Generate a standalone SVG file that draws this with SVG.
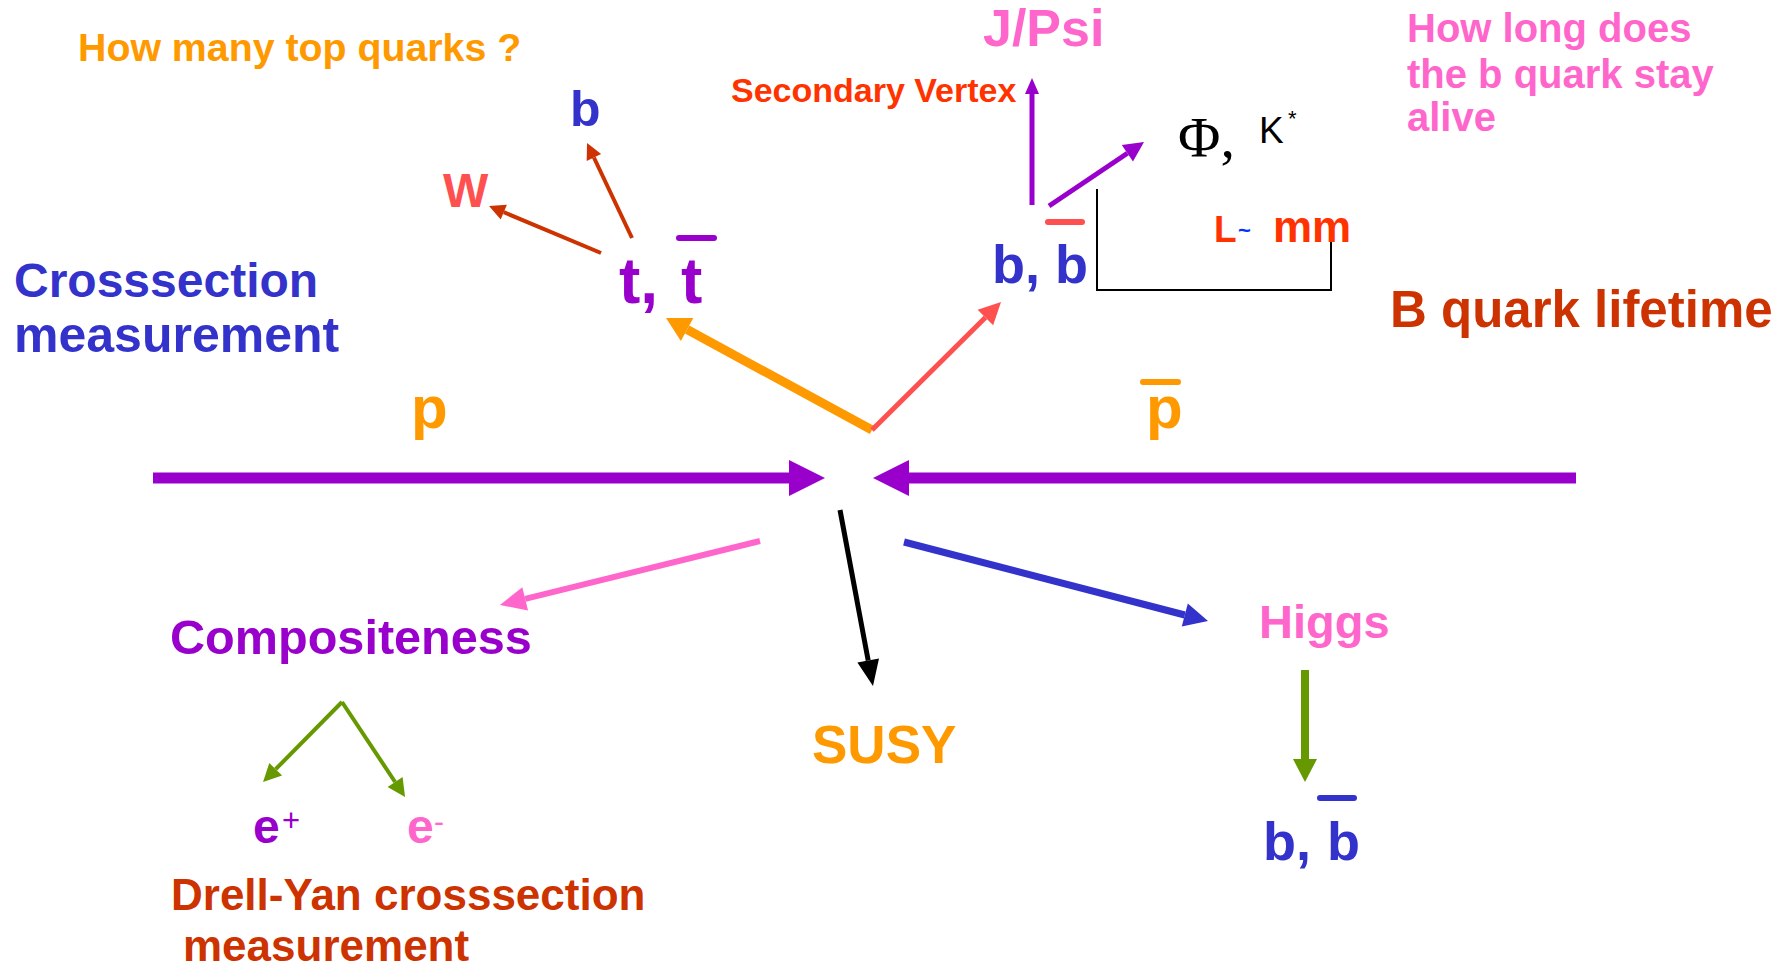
<svg xmlns="http://www.w3.org/2000/svg" width="1789" height="970" viewBox="0 0 1789 970">
<style>
text{font-family:"Liberation Sans",Arial,sans-serif;font-weight:bold}
.serif{font-family:"Liberation Serif","Times New Roman",serif;font-weight:normal}
.reg{font-weight:normal}
.or{fill:#FF9900}.pu{fill:#9900CC}.bl{fill:#3333CC}.pk{fill:#FF66CC}.rb{fill:#CC3300}.sa{fill:#FF5050}.ro{fill:#FF3300}
.bar{stroke-linecap:round;stroke-width:6}
#connectors line{fill:none}
</style>
<defs>
<marker id="mPurpleBig" markerUnits="userSpaceOnUse" markerWidth="36" markerHeight="36" viewBox="0 -18 36 36" refX="0" refY="0" orient="auto" overflow="visible"><path d="M0,-18L36,0L0,18z" fill="#9900CC"/></marker>
<marker id="mRB" markerUnits="userSpaceOnUse" markerWidth="16" markerHeight="16" viewBox="0 -8 16 16" refX="0" refY="0" orient="auto" overflow="visible"><path d="M0,-8L16,0L0,8z" fill="#CC3300"/></marker>
<marker id="mOr" markerUnits="userSpaceOnUse" markerWidth="24" markerHeight="26" viewBox="0 -13 24 26" refX="0" refY="0" orient="auto" overflow="visible"><path d="M0,-13L24,0L0,13z" fill="#FF9900"/></marker>
<marker id="mSa" markerUnits="userSpaceOnUse" markerWidth="22" markerHeight="22" viewBox="0 -11 22 22" refX="0" refY="0" orient="auto" overflow="visible"><path d="M0,-11L22,0L0,11z" fill="#FF5050"/></marker>
<marker id="mPuS" markerUnits="userSpaceOnUse" markerWidth="16" markerHeight="14" viewBox="0 -7 16 14" refX="0" refY="0" orient="auto" overflow="visible"><path d="M0,-7L16,0L0,7z" fill="#9900CC"/></marker>
<marker id="mPuM" markerUnits="userSpaceOnUse" markerWidth="20" markerHeight="20" viewBox="0 -10 20 20" refX="0" refY="0" orient="auto" overflow="visible"><path d="M0,-10L20,0L0,10z" fill="#9900CC"/></marker>
<marker id="mPk" markerUnits="userSpaceOnUse" markerWidth="26" markerHeight="24" viewBox="0 -12 26 24" refX="0" refY="0" orient="auto" overflow="visible"><path d="M0,-12L26,0L0,12z" fill="#FF66CC"/></marker>
<marker id="mBk" markerUnits="userSpaceOnUse" markerWidth="26" markerHeight="22" viewBox="0 -11 26 22" refX="0" refY="0" orient="auto" overflow="visible"><path d="M0,-11L26,0L0,11z" fill="#000000"/></marker>
<marker id="mBl" markerUnits="userSpaceOnUse" markerWidth="24" markerHeight="24" viewBox="0 -12 24 24" refX="0" refY="0" orient="auto" overflow="visible"><path d="M0,-12L24,0L0,12z" fill="#3333CC"/></marker>
<marker id="mGrS" markerUnits="userSpaceOnUse" markerWidth="18" markerHeight="18" viewBox="0 -9 18 18" refX="0" refY="0" orient="auto" overflow="visible"><path d="M0,-9L18,0L0,9z" fill="#669900"/></marker>
<marker id="mGrL" markerUnits="userSpaceOnUse" markerWidth="23" markerHeight="24" viewBox="0 -12 23 24" refX="0" refY="0" orient="auto" overflow="visible"><path d="M0,-12L23,0L0,12z" fill="#669900"/></marker>
</defs>
<rect width="1789" height="970" fill="#FFFFFF"/>

<g id="connectors">
<line x1="153" y1="478" x2="789" y2="478" stroke="#9900CC" stroke-width="11" marker-end="url(#mPurpleBig)"/>
<line x1="1576" y1="478" x2="909" y2="478" stroke="#9900CC" stroke-width="11" marker-end="url(#mPurpleBig)"/>
<line x1="601" y1="253" x2="503.8" y2="212.2" stroke="#CC3300" stroke-width="4" marker-end="url(#mRB)"/>
<line x1="632" y1="238" x2="593.9" y2="157.5" stroke="#CC3300" stroke-width="4" marker-end="url(#mRB)"/>
<line x1="872" y1="430" x2="687.1" y2="329.5" stroke="#FF9900" stroke-width="9" marker-end="url(#mOr)"/>
<line x1="872" y1="430" x2="985.4" y2="317.5" stroke="#FF5050" stroke-width="5" marker-end="url(#mSa)"/>
<line x1="1032" y1="205" x2="1032" y2="94" stroke="#9900CC" stroke-width="5" marker-end="url(#mPuS)"/>
<line x1="1049" y1="206" x2="1127.4" y2="153.2" stroke="#9900CC" stroke-width="5" marker-end="url(#mPuM)"/>
<polyline points="1097,189 1097,290 1331,290 1331,241" fill="none" stroke="#000000" stroke-width="2"/>
<line x1="760" y1="541" x2="525.2" y2="598.8" stroke="#FF66CC" stroke-width="6" marker-end="url(#mPk)"/>
<line x1="840" y1="510" x2="868.2" y2="660.5" stroke="#000000" stroke-width="5" marker-end="url(#mBk)"/>
<line x1="904" y1="542" x2="1184.8" y2="615" stroke="#3333CC" stroke-width="7" marker-end="url(#mBl)"/>
<line x1="342" y1="702" x2="275.7" y2="769.2" stroke="#669900" stroke-width="4" marker-end="url(#mGrS)"/>
<line x1="342" y1="702" x2="395.1" y2="782" stroke="#669900" stroke-width="4" marker-end="url(#mGrS)"/>
<line x1="1305" y1="670" x2="1305" y2="759" stroke="#669900" stroke-width="8" marker-end="url(#mGrL)"/>
</g>

<g id="q-top"><text class="or" x="78" y="61" font-size="39.3">How many top quarks ?</text></g>
<g id="b-top"><text class="bl" x="570" y="126" font-size="50">b</text></g>
<g id="W"><text class="sa" x="443" y="207" font-size="48">W</text></g>
<g id="ttbar"><text class="pu" x="619" y="303" font-size="64">t,<tspan x="681">t</tspan></text>
<line class="bar" x1="679" y1="238" x2="714" y2="238" stroke="#9900CC"/></g>
<g id="crosssection"><text class="bl" x="14" y="297" font-size="48">Crosssection</text><text class="bl" x="14" y="352" font-size="50">measurement</text></g>
<g id="bbar-top"><text class="bl" x="992" y="283" font-size="54">b,<tspan x="1055">b</tspan></text>
<line class="bar" x1="1048" y1="222" x2="1082" y2="222" stroke="#FF5050"/></g>
<g id="jpsi"><text class="pk" x="983" y="46" font-size="52">J/Psi</text></g>
<g id="secvertex"><text class="ro" x="731" y="102" font-size="34">Secondary Vertex</text></g>
<g id="phi"><text class="serif" x="1178" y="157" font-size="58" fill="#000">Φ,</text><text class="reg" x="1259" y="143" font-size="37" fill="#000">K</text><text class="reg" x="1288" y="126" font-size="22" fill="#000">*</text></g>
<g id="Lmm"><text class="ro" x="1214" y="242" font-size="37">L</text><text x="1238" y="238" font-size="22" fill="#0033FF">~</text><text class="ro" x="1273" y="242" font-size="44">mm</text></g>
<g id="howlong"><text class="pk" x="1407" y="42" font-size="40">How long does</text><text class="pk" x="1407" y="88" font-size="40">the b quark stay</text><text class="pk" x="1407" y="131" font-size="40">alive</text></g>
<g id="lifetime"><text class="rb" x="1390" y="327" font-size="51">B quark lifetime</text></g>
<g id="p"><text class="or" x="411" y="428" font-size="60">p</text></g>
<g id="pbar"><text class="or" x="1146" y="428" font-size="60">p</text><line class="bar" x1="1143" y1="382" x2="1178" y2="382" stroke="#FF9900"/></g>
<g id="compositeness"><text class="pu" x="170" y="654" font-size="48.6">Compositeness</text></g>
<g id="eplus"><text class="pu" x="253" y="843" font-size="48">e</text><text class="pu reg" x="282" y="831" font-size="31">+</text></g>
<g id="eminus"><text class="pk" x="407" y="843" font-size="48">e</text><text class="pk reg" x="434" y="832" font-size="30">-</text></g>
<g id="drellyan"><text class="rb" x="171" y="910" font-size="44">Drell-Yan crosssection</text><text class="rb" x="183" y="961" font-size="44">measurement</text></g>
<g id="susy"><text class="or" x="812" y="763" font-size="53">SUSY</text></g>
<g id="higgs"><text class="pk" x="1259" y="638" font-size="47">Higgs</text></g>
<g id="bbar-bottom"><text class="bl" x="1263" y="860" font-size="54">b,<tspan x="1327">b</tspan></text>
<line class="bar" x1="1320" y1="798" x2="1354" y2="798" stroke="#3333CC"/></g>
</svg>
